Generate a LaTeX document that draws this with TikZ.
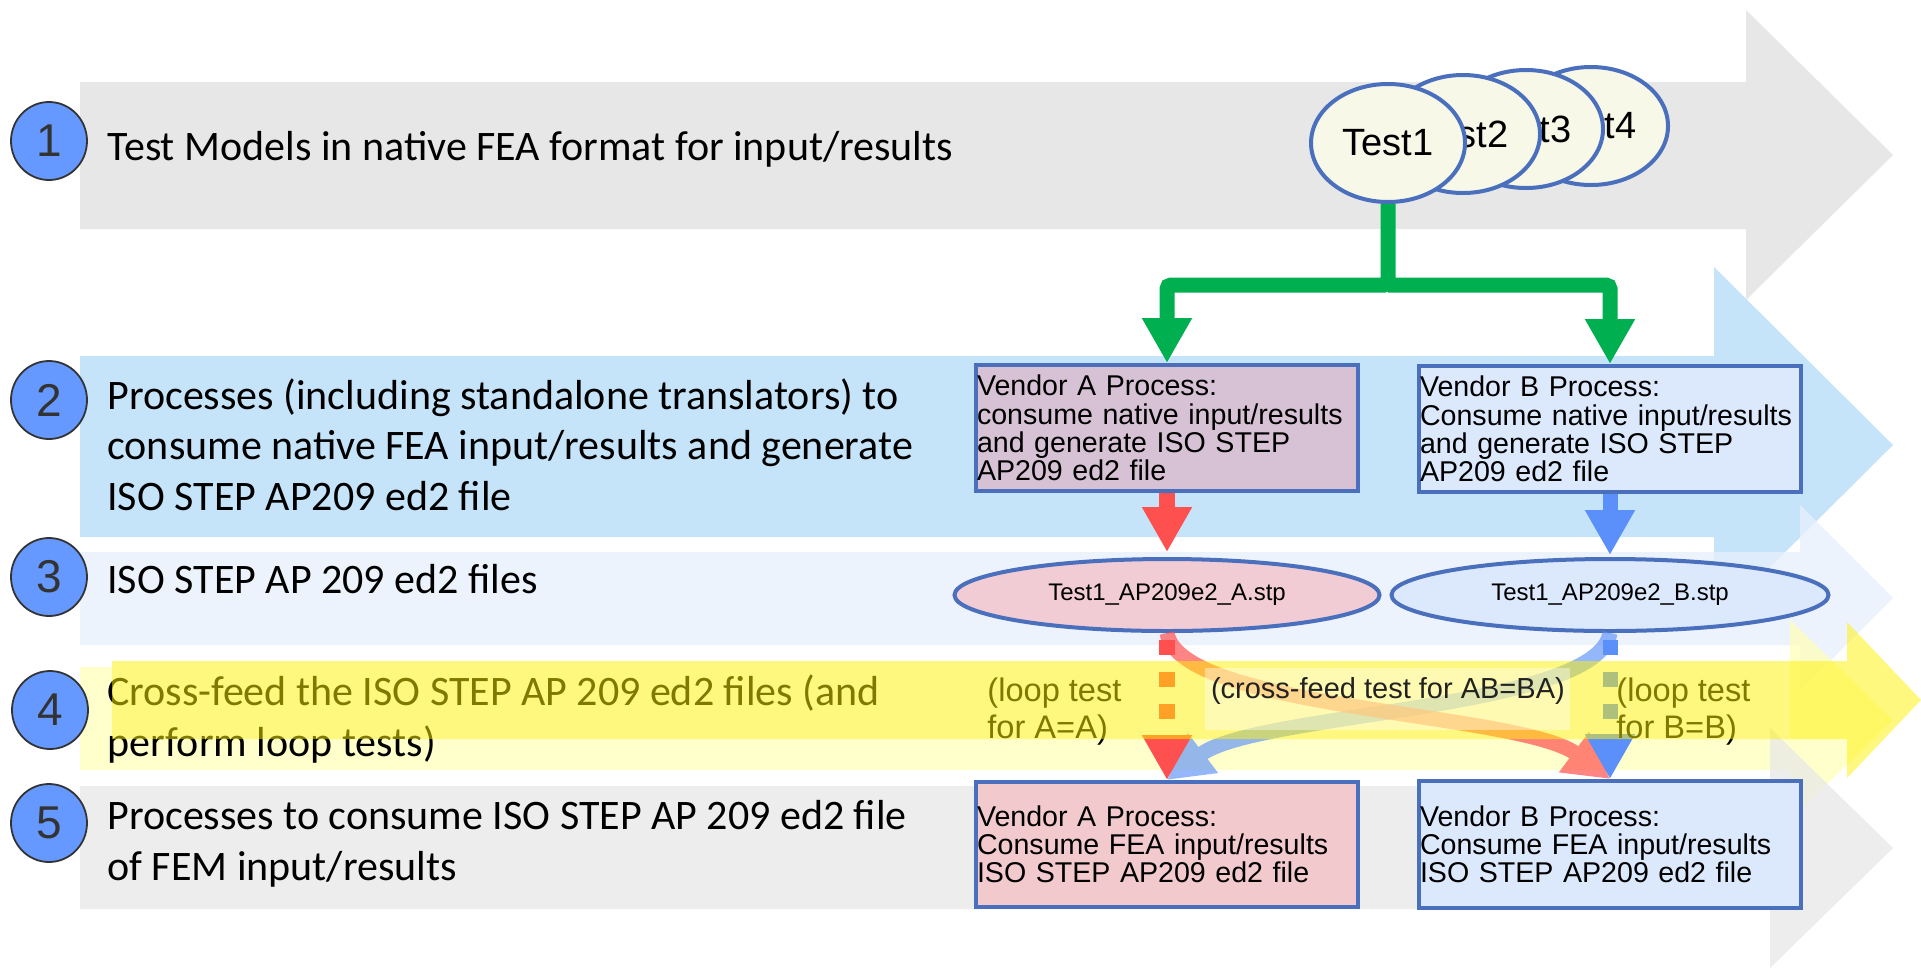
\documentclass[tikz,border=0pt]{standalone}
\usepackage{fontspec}
\setmainfont{Liberation Sans}
\newfontfamily\calfont{Carlito}
\usetikzlibrary{arrows.meta,shapes.geometric}
\hyphenpenalty=10000
\exhyphenpenalty=10000

\definecolor{rowgray}{RGB}{224,224,224}
\definecolor{rowblue}{RGB}{179,220,248}
\definecolor{rowpale}{RGB}{232,239,252}
\definecolor{rowlite}{RGB}{255,255,187}
\definecolor{rowgrayb}{RGB}{231,231,231}
\definecolor{numblue}{RGB}{102,153,255}
\definecolor{numedge}{RGB}{51,51,51}
\definecolor{edgeblue}{RGB}{74,111,189}
\definecolor{testfill}{RGB}{248,248,232}
\definecolor{mauve}{RGB}{214,194,212}
\definecolor{pinkA}{RGB}{242,201,205}
\definecolor{pinkE}{RGB}{242,204,212}
\definecolor{blueB}{RGB}{220,232,252}
\definecolor{flowgreen}{RGB}{0,176,80}
\definecolor{flowred}{RGB}{255,80,80}
\definecolor{flowblue}{RGB}{91,143,249}
\definecolor{labeltext}{RGB}{34,34,34}

\tikzset{
  band/.style={fill opacity=0.75},
  numdot/.style={ellipse, minimum width=38pt, minimum height=39pt, inner sep=0pt,
    fill=numblue, draw=numedge, line width=0.9pt, text=numedge,
    font=\fontsize{23}{26}\selectfont},
  rowtext/.style={anchor=base west, align=left, inner sep=0pt,
    font=\calfont\fontsize{21}{25.25}\selectfont},
  testnode/.style={ellipse, minimum width=77pt, minimum height=59pt, inner sep=0pt,
    fill=testfill, draw=edgeblue, line width=2pt, font=\fontsize{19}{21}\selectfont},
  vbox/.style={rectangle, draw=edgeblue, line width=2pt, minimum width=191pt,
    text width=190pt, inner xsep=0.5pt, inner ysep=0pt, align=left,
    font=\fontsize{14.3}{14.1}\selectfont},
  fileel/.style={ellipse, draw=edgeblue, line width=2pt, minimum height=36pt,
    inner sep=0pt, font=\fontsize{12}{14}\selectfont},
  headtip/.style={-{Triangle[width=23.5pt,length=22.5pt]}},
  greenflow/.style={draw=flowgreen, line width=7.5pt, rounded corners=2pt, headtip},
  redflow/.style={draw=flowred, line width=8pt, headtip},
  blueflow/.style={draw=flowblue, line width=7.5pt, headtip},
  dashflow/.style={dash pattern=on 7.5pt off 8.5pt, shorten <=3.5pt},
  curveflow/.style={line width=7.5pt, headtip},
  looplab/.style={anchor=base west, align=left, inner sep=0pt,
    font=\fontsize{16.3}{18.5}\selectfont},
  xlabel/.style={anchor=base west, fill=white, fill opacity=0.4, text opacity=1,
    text=labeltext, inner xsep=1.5pt, inner ysep=0pt, text height=15pt,
    text depth=16pt, minimum width=182.5pt, font=\fontsize{14.5}{16}\selectfont}
}

\begin{document}
\begin{tikzpicture}[x=0.5pt,y=-0.5pt]
\useasboundingbox (0,0) rectangle (1921,970);
\fill[white] (0,0) rectangle (1921,970);

% stage bands (block arrows)
\fill[rowgray, band] (80,82) -- (1746,82) -- (1746,10) -- (1893,155) -- (1746,300)
  -- (1746,229) -- (80,229) -- cycle;
\fill[rowblue, band] (80,356) -- (1714,356) -- (1714,267) -- (1893,445) -- (1714,623)
  -- (1714,537) -- (80,537) -- cycle;
\fill[rowpale, band] (80,552) -- (1800,552) -- (1800,505) -- (1893,598) -- (1800,691)
  -- (1800,645) -- (80,645) -- cycle;
\fill[rowlite, band] (80,667) -- (112,667) -- (112,739) -- (1790,739) -- (1790,620)
  -- (1893,720) -- (1790,820) -- (1790,770) -- (80,770) -- cycle;
\fill[rowgrayb, band] (80,786) -- (1770,786) -- (1770,728) -- (1893,848) -- (1770,968)
  -- (1770,909) -- (80,909) -- cycle;

% stage numbers
\node[numdot] (n1) at (49,141) {1};
\node[numdot] (n2) at (49,400) {2};
\node[numdot] (n3) at (49,577) {3};
\node[numdot] (n4) at (50,710) {4};
\node[numdot] (n5) at (49,823) {5};

% stage descriptions (anchored at the baseline of the last line)
\node[rowtext] (r1) at (107,160) {Test Models in native FEA format for input/results};
\node[rowtext] (r2) at (107,510) {Processes (including standalone translators) to\\consume native FEA input/results and generate\\ISO STEP AP209 ed2 file};
\node[rowtext] (r3) at (107,593) {ISO STEP AP 209 ed2 files};
\node[rowtext] (r4) at (107,756) {Cross-feed the ISO STEP AP 209 ed2 files (and\\perform loop tests)};
\node[rowtext] (r5) at (107,880) {Processes to consume ISO STEP AP 209 ed2 file\\of FEM input/results};

% stack of test models
\node[testnode] (t4) at (1591,126) {Test4};
\node[testnode] (t3) at (1526,129) {Test3};
\node[testnode] (t2) at (1463,134) {Test2};
\node[testnode] (t1) at (1388,143) {Test1};

% vendor processes and exchanged files
\node[vbox, fill=mauve, minimum height=63pt] (vA2) at (1167,428)
  {Vendor A Process:\\consume native input/results\\and generate ISO STEP\\AP209 ed2 file};
\node[vbox, fill=blueB, minimum height=63pt] (vB2) at (1610,429)
  {Vendor B Process:\\Consume native input/results\\and generate ISO STEP\\AP209 ed2 file};
\node[fileel, fill=pinkE, minimum width=212.5pt] (eA) at (1167,595) {Test1\_AP209e2\_A.stp};
\node[fileel, fill=blueB, minimum width=218.5pt] (eB) at (1610,595) {Test1\_AP209e2\_B.stp};
\node[vbox, fill=pinkA, minimum height=62.5pt] (vA5) at (1167,844.5)
  {Vendor A Process:\\Consume FEA input/results\\ISO STEP AP209 ed2 file};
\node[vbox, fill=blueB, minimum height=63.5pt] (vB5) at (1610,844.5)
  {Vendor B Process:\\Consume FEA input/results\\ISO STEP AP209 ed2 file};

% distribution of the test model
\coordinate (gj) at (1388,285);
\draw[greenflow] (t1.south) -- (gj) -| (vA2.north);
\draw[greenflow] (gj) -| (vB2.north);

% export to STEP files
\draw[redflow, shorten >=2.5pt] (vA2.south) -- (eA.north);
\draw[blueflow, shorten >=1pt] (vB2.south) -- (eB.north);

% cross-feed
\begin{scope}[transparency group, opacity=0.65]
  \draw[curveflow, draw=flowblue] (eB.south) .. controls (1597,710) and (1257,712) .. (vA5.north);
\end{scope}
\begin{scope}[transparency group, opacity=0.7]
  \draw[curveflow, draw=flowred] (eA.south) .. controls (1180,710) and (1520,712) .. (vB5.north);
\end{scope}

% loop tests
\draw[redflow, dashflow] (eA.south) -- (vA5.north);
\draw[blueflow, dashflow] (eB.south) -- (vB5.north);

\node[looplab] (lA) at (987,738) {(loop test\\for A=A)};
\node[looplab] (lB) at (1616,738) {(loop test\\for B=B)};

% highlighted cross-feed band on top
\fill[yellow, opacity=0.5] (112,661) -- (1847,661) -- (1847,622) -- (1921,700)
  -- (1847,778) -- (1847,739) -- (112,739) -- cycle;

\node[xlabel] (xf) at (1205,698) {(cross-feed test for AB=BA)};
\end{tikzpicture}
\end{document}
